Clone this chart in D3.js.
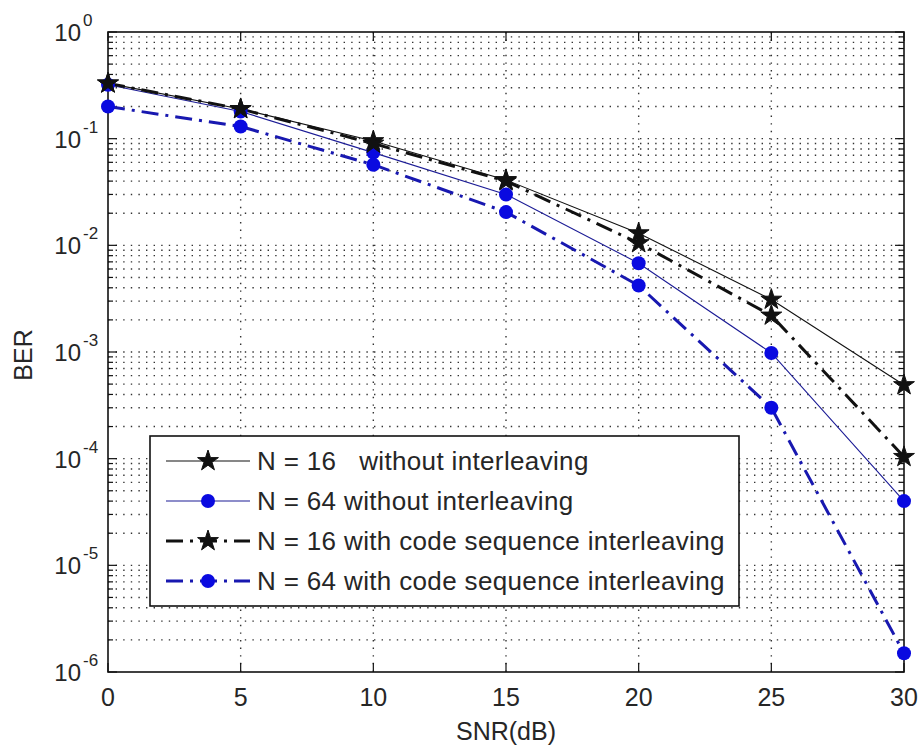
<!DOCTYPE html>
<html>
<head>
<meta charset="utf-8">
<script src="https://cdn.jsdelivr.net/npm/d3@7"></script>
<style>
  html, body { margin: 0; padding: 0; background: #fff; }
  svg text { font-family: "Liberation Sans", Arial, sans-serif; fill: #262626; white-space: pre; }
</style>
</head>
<body>
<svg id="chart" width="920" height="751"></svg>
<script>
// SNR values (dB) on the x axis
const snr = [0, 5, 10, 15, 20, 25, 30];
// Bit error rates for each configuration
const berN16 = [0.33, 0.19, 0.095, 0.041, 0.013, 0.0031, 0.00049];
const berN64 = [0.32, 0.18, 0.074, 0.030, 0.0068, 0.00098, 0.00004];
const berN16Interleaved = [0.33, 0.19, 0.09, 0.04, 0.0105, 0.0022, 0.000104];
const berN64Interleaved = [0.20, 0.13, 0.057, 0.0205, 0.0042, 0.0003, 0.0000015];
// Axis ticks
const xTicks = [0, 5, 10, 15, 20, 25, 30];
const yExponents = [0, -1, -2, -3, -4, -5, -6];
// Legend labels
const legendLabels = [
  "N = 16   without interleaving",
  "N = 64 without interleaving",
  "N = 16 with code sequence interleaving",
  "N = 64 with code sequence interleaving"
];

const blueThin = "#1c1c96";
const blueThick = "#1818b0";
const blueMark = "#0a0ae0";

const series = [
  { values: berN16, color: "#111", fill: "#111", width: 1.1, dash: null, marker: "star" },
  { values: berN64, color: blueThin, fill: blueMark, width: 1.1, dash: null, marker: "circle" },
  { values: berN16Interleaved, color: "#111", fill: "#111", width: 3, dash: "17,7,3,7", marker: "star" },
  { values: berN64Interleaved, color: blueThick, fill: blueMark, width: 3, dash: "17,7,3,7", marker: "circle" }
];

const svg = d3.select("#chart");
const plotLeft = 108, plotRight = 904, plotTop = 32, plotBottom = 672;

const x = d3.scaleLinear().domain([0, 30]).range([plotLeft, plotRight]);
const y = d3.scaleLog().domain([1e-6, 1]).range([plotBottom, plotTop]);

// Grid: dotted horizontal lines at every decade step, vertical lines at major x ticks
const gridG = svg.append("g");
const minorVals = [];
for (let e = -6; e < 0; e++) {
  for (let m = 1; m <= 9; m++) minorVals.push(m * Math.pow(10, e));
}
gridG.selectAll("line.h").data(minorVals.filter(v => v > 1e-6)).join("line")
  .attr("x1", plotLeft).attr("x2", plotRight)
  .attr("y1", d => y(d)).attr("y2", d => y(d))
  .attr("stroke", "#333").attr("stroke-width", 1.4)
  .attr("stroke-dasharray", "1.4,6.2");
gridG.selectAll("line.v").data(xTicks.slice(1, -1)).join("line")
  .attr("x1", d => x(d)).attr("x2", d => x(d))
  .attr("y1", plotTop).attr("y2", plotBottom)
  .attr("stroke", "#333").attr("stroke-width", 1.4)
  .attr("stroke-dasharray", "1.4,6.2");

// Inward ticks on all four sides
const tickG = svg.append("g").attr("stroke", "#111").attr("stroke-width", 1.2);
xTicks.forEach(t => {
  tickG.append("line").attr("x1", x(t)).attr("x2", x(t)).attr("y1", plotBottom).attr("y2", plotBottom - 9);
  tickG.append("line").attr("x1", x(t)).attr("x2", x(t)).attr("y1", plotTop).attr("y2", plotTop + 9);
});
minorVals.concat([1]).forEach(v => {
  const major = Math.abs(Math.log10(v) - Math.round(Math.log10(v))) < 1e-9;
  const len = major ? 9 : 5;
  tickG.append("line").attr("x1", plotLeft).attr("x2", plotLeft + len).attr("y1", y(v)).attr("y2", y(v));
  tickG.append("line").attr("x1", plotRight).attr("x2", plotRight - len).attr("y1", y(v)).attr("y2", y(v));
});

svg.append("rect").attr("x", plotLeft).attr("y", plotTop)
  .attr("width", plotRight - plotLeft).attr("height", plotBottom - plotTop)
  .attr("fill", "none").attr("stroke", "#111").attr("stroke-width", 1.6);

// Tick labels
svg.append("g").selectAll("text").data(xTicks).join("text")
  .attr("x", d => x(d)).attr("y", plotBottom + 34)
  .attr("text-anchor", "middle").attr("font-size", 25)
  .text(d => d);

const yl = svg.append("g").selectAll("g").data(yExponents).join("g")
  .attr("transform", d => `translate(81,${y(Math.pow(10, d)) + 9})`);
yl.append("text").attr("text-anchor", "end").attr("font-size", 24).text("10");
yl.append("text").attr("x", 2).attr("y", -15).attr("font-size", 17).text(d => d);

// Axis titles
svg.append("text").attr("x", (plotLeft + plotRight) / 2).attr("y", plotBottom + 68)
  .attr("text-anchor", "middle").attr("font-size", 25).text("SNR(dB)");
svg.append("text").attr("transform", `translate(32,${(plotTop + plotBottom) / 2 + 3}) rotate(-90)`)
  .attr("text-anchor", "middle").attr("font-size", 25).text("BER");

// Markers
const star = d3.symbol().type(d3.symbolStar).size(135);
function drawMarker(g, s, cx, cy) {
  if (s.marker === "star") {
    g.append("path").attr("d", star()).attr("transform", `translate(${cx},${cy})`)
      .attr("fill", s.fill).attr("stroke", s.fill).attr("stroke-width", 1);
  } else {
    g.append("circle").attr("cx", cx).attr("cy", cy).attr("r", 7).attr("fill", s.fill);
  }
}

// Series lines, then markers on top
const line = d3.line().x((d, i) => x(snr[i])).y(d => y(d));
const plotG = svg.append("g");
series.forEach(s => {
  plotG.append("path").attr("d", line(s.values))
    .attr("fill", "none").attr("stroke", s.color)
    .attr("stroke-width", s.width)
    .attr("stroke-dasharray", s.dash);
});
series.forEach(s => {
  s.values.forEach((v, i) => drawMarker(plotG, s, x(snr[i]), y(v)));
});

// Legend
const lg = svg.append("g");
lg.append("rect").attr("x", 150).attr("y", 436).attr("width", 589).attr("height", 170)
  .attr("fill", "#fff").attr("stroke", "#111").attr("stroke-width", 1.6);
series.forEach((s, i) => {
  const cy = 461 + i * 40;
  lg.append("path").attr("d", `M166,${cy}H250`)
    .attr("stroke", s.color).attr("stroke-width", s.width)
    .attr("stroke-dasharray", s.dash);
  drawMarker(lg, s, 208, cy);
  lg.append("text").attr("x", 257).attr("y", cy + 9).attr("font-size", 26)
    .attr("letter-spacing", 0.35).text(legendLabels[i]);
});
</script>
</body>
</html>
